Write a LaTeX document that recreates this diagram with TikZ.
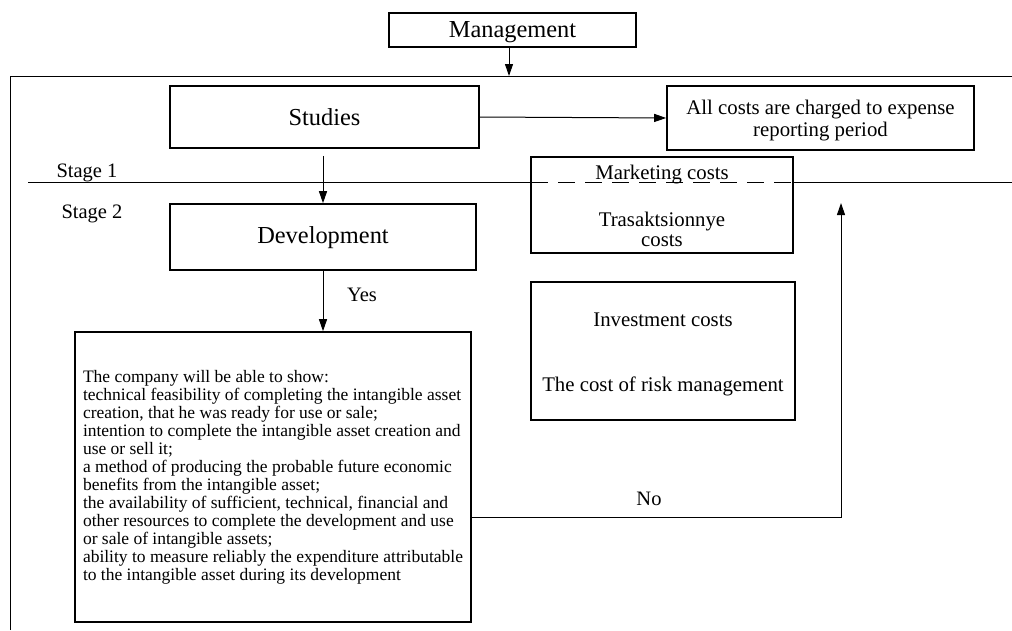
\documentclass[tikz,border=0pt]{standalone}
\usepackage{fontspec}
\setmainfont{Liberation Serif}
\usetikzlibrary{arrows.meta,calc}
\begin{document}
\begin{tikzpicture}[x=1pt,y=-1pt,
  box/.style={draw,line width=1.6pt,rectangle,inner sep=0pt,align=center},
  conn/.style={line width=1pt},
  arr/.style={conn,-{Triangle[length=12pt,width=8pt]}},
  big/.style={font=\fontsize{20.8}{22}\selectfont},
  huge/.style={font=\fontsize{24.4}{26}\selectfont},
  lbl/.style={font=\fontsize{20.5}{22}\selectfont}]
\useasboundingbox (0,0) rectangle (1012,630);
% frame
\draw[conn] (10,630) -- (10,76) -- (1012,76);
\coordinate (ftop) at (509,76);
% stage line
\draw[conn] (28,182) -- (531,182);
\draw[conn,dash pattern=on 17pt off 10pt] (531,182) -- (793,182);
\draw[conn] (793,182) -- (1012,182);
\node[lbl] (s1) at (87,173) {Stage 1};
\node[lbl] (s2) at (92,214) {Stage 2};
% boxes
\node[box,huge,minimum width=247pt,minimum height=34pt] (mgmt) at (512.5,30) {};
\node[huge] (mgmttxt) at (512.5,32) {Management};
\node[box,huge,minimum width=309pt,minimum height=62pt] (stud) at (324.5,117) {Studies};
\node[box,minimum width=307pt,minimum height=64pt] (allc) at (820.5,118) {};
\node[big,align=center,font=\fontsize{20.8}{22}\selectfont] (allctxt) at (820.5,121) {All costs are charged to expense\\reporting period};
\node[box,huge,minimum width=306pt,minimum height=66pt] (dev) at (323,237) {};
\node[huge] (devtxt) at (323,238) {Development};
\node[box,minimum width=262pt,minimum height=96pt] (mkt) at (662,205) {};
\node[big] (mktxt) at (662,175) {Marketing costs};
\node[big,align=center,font=\fontsize{20.8}{20}\selectfont] (tra) at (662,229) {Trasaktsionnye\\costs};
\node[box,minimum width=264pt,minimum height=138pt] (inv) at (663,351) {};
\node[big,align=center] (invtxt) at (663,354) {Investment costs\\[43pt]The cost of risk management};
\node[box,minimum width=396pt,minimum height=290pt,align=left,font=\fontsize{17.5}{18}\selectfont] (cond) at (273,477) {The company will be able to show:\\
technical feasibility of completing the intangible asset\\
creation, that he was ready for use or sale;\\
intention to complete the intangible asset creation and\\
use or sell it;\\
a method of producing the probable future economic\\
benefits from the intangible asset;\\
the availability of sufficient, technical, financial and\\
other resources to complete the development and use\\
or sale of intangible assets;\\
ability to measure reliably the expenditure attributable\\
to the intangible asset during its development};
% connectors
\draw[arr] (mgmt.south -| ftop) -- (ftop);
\draw[arr] (stud.east) -- (allc.west);
\draw[arr] ([yshift=-7pt]stud.south -| dev.north) -- (dev.north);
\draw[arr] (dev.south) -- (dev.south |- cond.north);
\node[lbl] (yes) at (362,295) {Yes};
\coordinate (nocorner) at (841,517);
\coordinate (noend) at (841,203);
\draw[arr] (cond.east |- nocorner) -- (nocorner) -- (noend);
\node[lbl] (no) at (649,499) {No};
\end{tikzpicture}
\end{document}
